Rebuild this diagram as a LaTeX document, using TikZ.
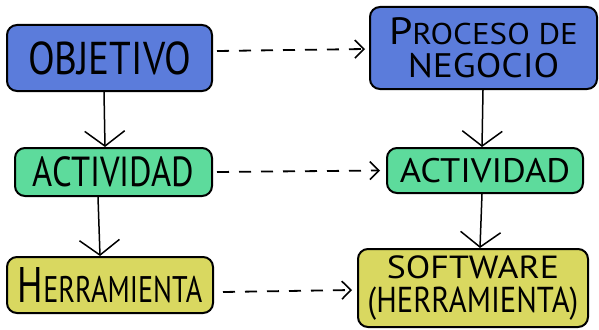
\documentclass[tikz,border=0pt]{standalone}
\usepackage{fontspec}
\setmainfont{PT Sans}
\usetikzlibrary{arrows.meta}
\definecolor{boxblue}{RGB}{91,124,219}
\definecolor{boxgreen}{RGB}{93,219,156}
\definecolor{boxyellow}{RGB}{217,216,96}
% condensed hand lettering: #1 horizontal squeeze, #2 size, #3 text
\newcommand\hw[3]{{\fontsize{#2}{#2}\selectfont\scalebox{#1}[1]{#3}}}
\begin{document}
\begin{tikzpicture}[x=1pt,y=-1pt,
  card/.style={draw=black, line width=2pt, rounded corners=10pt, inner sep=0pt,
    text=black, align=center},
  down/.style={line width=1.5pt,
    -{Straight Barb[length=15pt,width=40pt,line width=1.5pt]}},
  link/.style={line width=1.8pt, dash pattern=on 12pt off 10pt,
    -{Straight Barb[length=9pt,width=18pt,line width=1.6pt]}}]
\useasboundingbox[fill=white] (0,0) rectangle (599,329);

\node[card, fill=boxblue, minimum width=205pt, minimum height=66pt] (obj) at (109.5,58)
  {\hw{0.85}{46}{OBJETIVO}};
\node[card, fill=boxblue, minimum width=227pt, minimum height=82pt,
  font={\fontsize{30}{33}\selectfont}] (proc) at (483.5,48)
  {\hw{1.1}{30}{{\fontsize{38}{38}\selectfont P}ROCESO DE}\\\hw{1.1}{34}{NEGOCIO}};
\node[card, fill=boxgreen, minimum width=197pt, minimum height=48pt] (actL) at (113.5,172)
  {\hw{0.82}{42}{ACTIVIDAD}};
\node[card, fill=boxgreen, minimum width=196pt, minimum height=45pt] (actR) at (485,170.5)
  {\hw{1.07}{34}{ACTIVIDAD}};
\node[card, fill=boxyellow, minimum width=206pt, minimum height=56pt] (herr) at (110,285)
  {\hw{0.76}{37}{{\fontsize{50}{50}\selectfont H}ERRAMIENTA}};
\node[card, fill=boxyellow, minimum width=230pt, minimum height=78pt,
  font={\fontsize{30}{34}\selectfont}] (soft) at (473,288)
  {\hw{1.12}{32}{SOFTWARE}\\\hw{0.85}{36}{(HERRAMIENTA)}};

\draw[down] (obj.south -| 104,0) -- (actL.north -| 105,0);
\draw[down] (actL.south -| 98,0) -- (herr.north -| 100,0);
\draw[down] (proc.south -| 483,0) -- (actR.north -| 482,0);
\draw[down] (actR.south -| 482,0) -- (soft.north -| 480,0);

\draw[link] ([xshift=4pt,yshift=7pt]obj.east) -- ([xshift=-4pt,yshift=-1pt]proc.west);
\draw[link] ([xshift=4pt]actL.east) -- ([xshift=-6pt]actR.west);
\draw[link] ([xshift=9pt,yshift=-7pt]herr.east) -- ([xshift=-5pt,yshift=-2pt]soft.west);
\end{tikzpicture}
\end{document}
